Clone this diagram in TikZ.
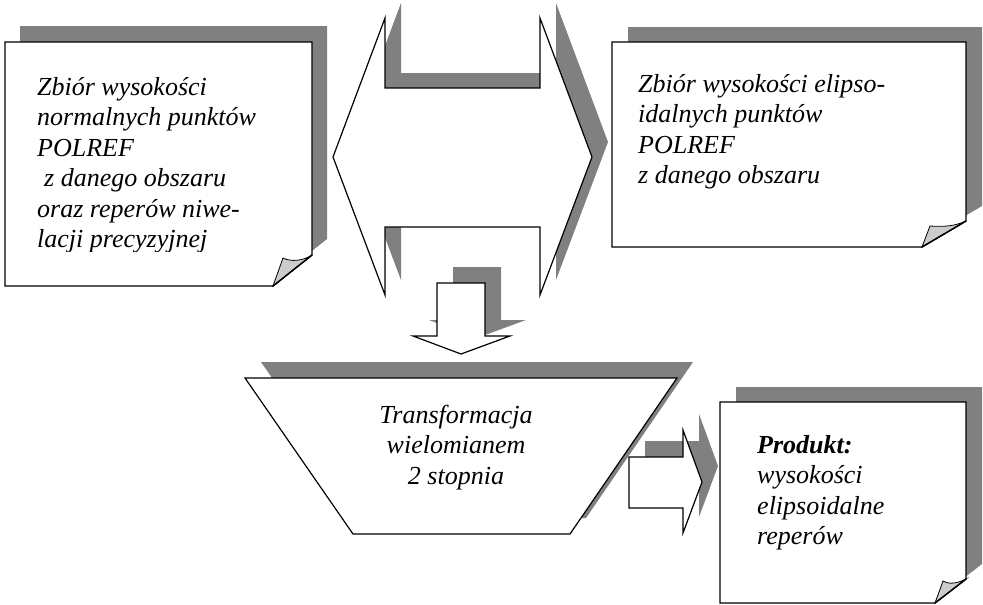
\documentclass[tikz,border=0pt]{standalone}
\usepackage{fontspec}
\setmainfont{Liberation Serif}
\definecolor{shadowgray}{HTML}{808080}
\definecolor{foldgray}{HTML}{CCCCCC}
% outlines of the shapes (drawn once as a shadow, once in front)
\newcommand\shpLeftPage[1]{\path[#1] (5,42) -- (312,42) -- (312,255) -- (273,286) -- (5,286) -- cycle;}
\newcommand\shpRightPage[1]{\path[#1] (612,42) -- (966,42) -- (966,221) -- (922,247) -- (612,247) -- cycle;}
\newcommand\shpProductPage[1]{\path[#1] (720,402) -- (966,402) -- (966,579) -- (935,603) -- (720,603) -- cycle;}
\newcommand\shpDblArrow[1]{\path[#1] (333,157) -- (385,18) -- (385,88) -- (540,88) -- (540,18) -- (592,157)
  -- (540,295) -- (540,227) -- (385,227) -- (385,295) -- cycle;}
\newcommand\shpDownArrow[1]{\path[#1] (437,283) -- (485,283) -- (485,336) -- (510,336) -- (461,354)
  -- (413,336) -- (437,336) -- cycle;}
\newcommand\shpFunnel[1]{\path[#1] (245,378) -- (677,378) -- (570,534) -- (353,534) -- cycle;}
\newcommand\shpRightArrow[1]{\path[#1] (629,457) -- (683,457) -- (683,430) -- (702,482) -- (683,533)
  -- (683,508) -- (629,508) -- cycle;}
\begin{document}
\begin{tikzpicture}[x=1pt,y=-1pt,
  shade/.style={fill=shadowgray},
  front/.style={fill=white,draw=black,line width=1.4pt,line join=miter},
  curl/.style={fill=foldgray,draw=black,line width=0.8pt},
  txt/.style={inner sep=0pt,anchor=base west,font=\fontsize{26}{30.5}\selectfont\itshape}]
\useasboundingbox (0,0) rectangle (983,605);

% left sheet
\shpLeftPage{shade,shift={(15,-16)}}
\shpLeftPage{front}
\path[curl] (273,286) -- (283,258) .. controls (291,262) and (303,261) .. (312,255) -- cycle;
\draw[line width=1.4pt] (273,286) -- (312,255);
\begin{scope}
  \clip (5,42) rectangle (312,251);
  \node[txt] (lefttext) at (37,95) {\parbox[t]{270pt}{\raggedright
    Zbiór wysokości\\normalnych punktów\\POLREF\\\hspace*{7pt}z danego obszaru\\oraz reperów niwe-\\lacji precyzyjnej}};
\end{scope}

% right sheet
\shpRightPage{shade,shift={(16,-15)}}
\shpRightPage{front}
\path[curl] (922,247) -- (930,226) .. controls (945,227) and (955,226) .. (966,221) -- cycle;
\draw[line width=1.4pt] (922,247) -- (966,221);
\node[txt] (righttext) at (638,92) {\parbox[t]{320pt}{\raggedright
  Zbiór wysokości elipso-\\idalnych punktów\\POLREF\\z danego obszaru}};

% double arrow between the sheets
\shpDblArrow{shade,shift={(16,-15)}}
\shpDblArrow{front,line width=1.2pt}

% arrow down to the transformation
\shpDownArrow{shade,shift={(16,-16)}}
\shpDownArrow{front,line width=1.2pt}

% transformation funnel
\shpFunnel{shade,shift={(16,-16)}}
\shpFunnel{front,line width=1.2pt}
\node[txt,anchor=base] (transtext) at (456,423) {\parbox[t]{300pt}{\centering
  Transformacja\\wielomianem\\2 stopnia}};

% arrow to the product
\shpRightArrow{shade,shift={(16,-16)}}
\shpRightArrow{front,line width=1.2pt}

% product sheet
\shpProductPage{shade,shift={(16,-15)}}
\shpProductPage{front}
\path[curl] (935,603) -- (943,581) .. controls (950,585) and (958,583) .. (966,579) -- cycle;
\draw[line width=1.4pt] (935,603) -- (966,579);
\node[txt] (producttext) at (757,453) {\parbox[t]{200pt}{\raggedright
  \textbf{Produkt:}\\wysokości\\elipsoidalne\\reperów}};
\end{tikzpicture}
\end{document}
